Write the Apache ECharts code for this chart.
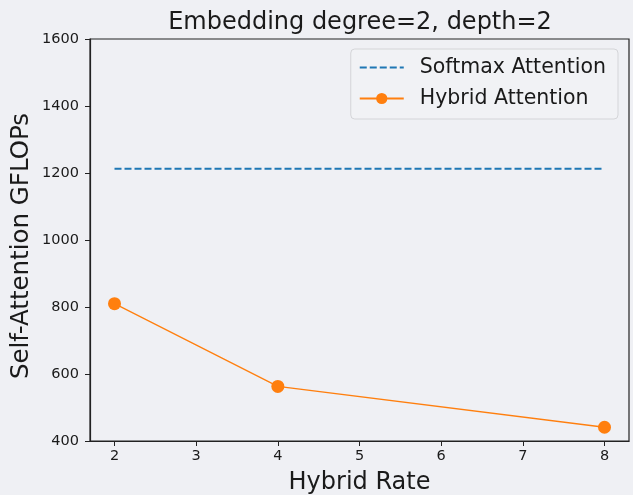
<!DOCTYPE html>
<html>
<head>
<meta charset="utf-8">
<script src="https://cdn.jsdelivr.net/npm/echarts@6/dist/echarts.min.js"></script>
<style>
  html, body { margin: 0; padding: 0; background: #eff0f4; }
  #chart { width: 633px; height: 495px; }
</style>
</head>
<body>
<div id="chart"></div>
<script>
// hybrid rate on x, GFLOPs on y
const hybridRates = [2, 4, 8]
const softmaxGflops = [1213, 1213, 1213]
const hybridGflops = [810, 563, 441]
const xTicks = [2, 3, 4, 5, 6, 7, 8]

const font = 'DejaVu Sans'

const chart = echarts.init(document.getElementById('chart'))

chart.setOption({
  backgroundColor: '#eff0f4',
  animation: false,
  title: {
    text: 'Embedding degree=2, depth=2',
    left: 355,
    textAlign: 'center',
    top: 6,
    textStyle: { fontFamily: font, fontSize: 24, fontWeight: 'normal', color: '#1a1a1a' }
  },
  grid: {
    left: 90, right: 4, top: 39, bottom: 54,
    containLabel: false,
    outerBoundsMode: 'none',
    show: true, borderColor: '#222', borderWidth: 1.2
  },
  legend: {
    orient: 'vertical',
    right: 15,
    top: 49,
    padding: [8, 12, 10, 8],
    itemWidth: 44,
    itemHeight: 14,
    itemGap: 10,
    backgroundColor: '#f1f2f5',
    borderColor: '#d4d5d8',
    borderWidth: 1,
    borderRadius: 4,
    textStyle: { fontFamily: font, fontSize: 20.5, color: '#1a1a1a', padding: [0, 0, 0, 11] },
    data: [
      { name: 'Softmax Attention', itemStyle: { opacity: 0 } },
      'Hybrid Attention'
    ]
  },
  xAxis: {
    type: 'value',
    min: 1.7,
    max: 8.3,
    name: 'Hybrid Rate',
    nameLocation: 'middle',
    nameGap: 30,
    nameTextStyle: { fontFamily: font, fontSize: 24, color: '#1a1a1a' },
    axisLine: { lineStyle: { color: '#222', width: 1.2 } },
    axisTick: { length: 5, lineStyle: { color: '#222' }, customValues: xTicks },
    axisLabel: { fontFamily: font, fontSize: 14.5, color: '#1a1a1a', margin: 8, customValues: xTicks },
    splitLine: { show: false }
  },
  yAxis: {
    type: 'value',
    min: 400,
    max: 1600,
    interval: 200,
    name: 'Self-Attention GFLOPs',
    nameLocation: 'middle',
    nameGap: 56,
    nameMoveOverlap: false,
    nameTextStyle: { fontFamily: font, fontSize: 24.5, color: '#1a1a1a', padding: [0, 12, 0, 0] },
    axisLine: { show: true, lineStyle: { color: '#222', width: 1.2 } },
    axisTick: { show: true, length: 5, lineStyle: { color: '#222' } },
    axisLabel: { fontFamily: font, fontSize: 14.5, color: '#1a1a1a', margin: 11, formatter: v => String(v) },
    splitLine: { show: false }
  },
  series: [
    {
      name: 'Softmax Attention',
      type: 'line',
      data: hybridRates.map((x, i) => [x, softmaxGflops[i]]),
      symbol: 'none',
      color: '#1f77b4',
      lineStyle: { width: 2, type: [7, 3], color: '#1f77b4' }
    },
    {
      name: 'Hybrid Attention',
      type: 'line',
      data: hybridRates.map((x, i) => [x, hybridGflops[i]]),
      symbol: 'circle',
      symbolSize: 13,
      color: '#ff7f0e',
      itemStyle: { color: '#ff7f0e' },
      lineStyle: { width: 1.3, color: '#ff7f0e' }
    }
  ]
})
</script>
</body>
</html>
